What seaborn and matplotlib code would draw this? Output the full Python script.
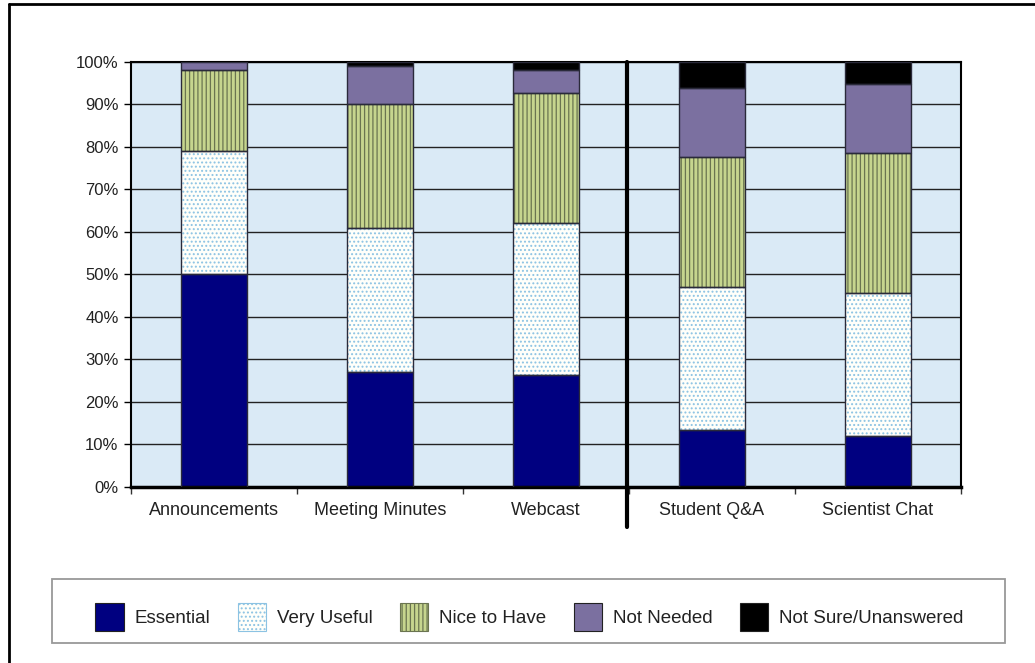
import numpy as np
import matplotlib
matplotlib.use("Agg")
import matplotlib.pyplot as plt
import seaborn as sns
from matplotlib.patches import Rectangle, Patch
from matplotlib.lines import Line2D
from matplotlib.ticker import PercentFormatter, FixedLocator

# datos (porcentaje de respuestas)
categories = ["Announcements", "Meeting Minutes", "Webcast", "Student Q&A", "Scientist Chat"]
essential = [50.0, 27.0, 26.4, 13.4, 12.0]
very_useful = [29.0, 34.0, 35.7, 33.6, 33.6]
nice_to_have = [19.0, 29.0, 30.5, 30.7, 33.0]
not_needed = [2.0, 9.0, 5.5, 16.1, 16.2]
not_sure = [0.0, 1.0, 2.0, 6.2, 5.2]

sns.set_style("white")
plt.rcParams["font.family"] = ["Liberation Sans", "DejaVu Sans"]
plt.rcParams["hatch.linewidth"] = 0.9

fig = plt.figure(figsize=(10.35, 6.63), dpi=100)
ax = fig.add_axes([0.1266, 0.2655, 0.8019, 0.641])
ax.set_facecolor("#DAEAF6")

# capas: nombre, valores, relleno, trama, color de la trama
layers = [
    ("Essential", essential, "#000080", "", None),
    ("Very Useful", very_useful, "#FFFFFA", "....", "#8CC3E3"),
    ("Nice to Have", nice_to_have, "#C6D58E", "||||", "#6A7450"),
    ("Not Needed", not_needed, "#7B70A0", "", None),
    ("Not Sure/Unanswered", not_sure, "#000000", "", None),
]

bottom = np.zeros(len(categories))
handles = []
for name, vals, fc, hatch, hc in layers:
    n0 = len(ax.patches)
    sns.barplot(x=categories, y=vals, bottom=bottom, color=fc, saturation=1,
                width=0.4, ax=ax, zorder=2)
    for p in ax.patches[n0:]:
        p.set_facecolor(fc)
        p.set_hatch(hatch)
        p.set_edgecolor(hc if hc else fc)
        p.set_linewidth(0)
        if p.get_height() > 0:
            ax.add_patch(Rectangle(p.get_xy(), p.get_width(), p.get_height(),
                                   fill=False, ec="#2A2A3A", lw=1.0, zorder=3))
    bottom = bottom + np.array(vals)
    h = Patch(facecolor=fc, hatch=hatch, edgecolor=hc if hc else "#222222", lw=0.8)
    handles.append(h)

ax.set_xlim(-0.5, len(categories) - 0.5)
ax.set_ylim(0, 100)
ax.yaxis.set_major_locator(FixedLocator(np.arange(0, 101, 10)))
ax.yaxis.set_major_formatter(PercentFormatter(xmax=100, decimals=0))
ax.grid(axis="y", color="#222222", lw=1.0)
ax.grid(axis="x", visible=False)
ax.set_axisbelow(True)
ax.set_xlabel("")
ax.set_ylabel("")

ax.tick_params(axis="y", left=True, length=5, width=1, labelsize=12, colors="black", pad=4)
ax.tick_params(axis="x", which="major", length=0, labelsize=13, pad=11)
ax.set_xticks(np.arange(-0.5, len(categories), 1.0), minor=True)
ax.tick_params(axis="x", which="minor", bottom=True, length=5, width=1, color="#333333")
for lab in ax.get_xticklabels() + ax.get_yticklabels():
    lab.set_color("#222222")

for s in ["left", "right", "top"]:
    ax.spines[s].set_visible(True)
    ax.spines[s].set_color("black")
    ax.spines[s].set_linewidth(1.5)
ax.spines["bottom"].set_visible(True)
ax.spines["bottom"].set_color("black")
ax.spines["bottom"].set_linewidth(2.5)

# separador entre grupos
ax.axvline(2.49, ymin=-0.095, ymax=1, color="black", lw=3, clip_on=False, zorder=5)

# leyenda (marco dibujado aparte)
fig.add_artist(Rectangle((52 / 1035, 20 / 663), 953 / 1035, 64 / 663,
                         transform=fig.transFigure, fill=False,
                         ec="#999999", lw=1.3))
leg = fig.legend(handles=handles, labels=[l[0] for l in layers],
                 ncol=5, loc="center", bbox_to_anchor=(0.5116, 0.0694),
                 frameon=False, fontsize=13.5, handlelength=1.5, handleheight=1.9,
                 handletextpad=0.6, borderpad=0, borderaxespad=0, columnspacing=1.45)
for t in leg.get_texts():
    t.set_color("#222222")

# borde de la figura
fig.add_artist(Line2D([9 / 1035, 9 / 1035], [0, 1 - 4 / 663], transform=fig.transFigure,
                      color="black", lw=2))
fig.add_artist(Line2D([9 / 1035, 1], [1 - 4 / 663, 1 - 4 / 663], transform=fig.transFigure,
                      color="black", lw=2))

fig.savefig("out.png", dpi=100)
